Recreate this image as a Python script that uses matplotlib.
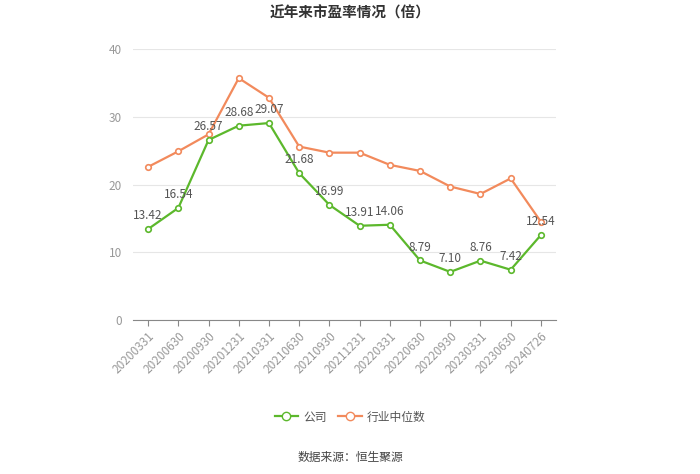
import matplotlib
matplotlib.use('Agg')
import matplotlib.pyplot as plt
from matplotlib.lines import Line2D

plt.rcParams['font.family'] = ['Noto Sans CJK SC', 'DejaVu Sans']
plt.rcParams['axes.unicode_minus'] = False

dates = ['20200331', '20200630', '20200930', '20201231', '20210331', '20210630',
         '20210930', '20211231', '20220331', '20220630', '20220930', '20230331',
         '20230630', '20240726']
company = [13.42, 16.54, 26.57, 28.68, 29.07, 21.68, 16.99, 13.91, 14.06, 8.79,
           7.10, 8.76, 7.42, 12.54]
industry = [22.6, 24.9, 27.4, 35.7, 32.8, 25.6, 24.7, 24.7, 22.9, 22.0, 19.7,
            18.6, 20.9, 14.5]
yticks = [0, 10, 20, 30, 40]

GREEN = '#5cb82c'
ORANGE = '#f28a5c'
GRAY = '#999999'

fig = plt.figure(figsize=(7.0, 4.74), dpi=100)
ax = fig.add_axes([133 / 700, 1 - 320 / 474, 423 / 700, 271 / 474])

x = list(range(len(dates)))
ax.plot(x, industry, color=ORANGE, lw=1.6, marker='o', ms=4,
        mfc='white', mec=ORANGE, mew=1.2, zorder=3)
ax.plot(x, company, color=GREEN, lw=1.6, marker='o', ms=4,
        mfc='white', mec=GREEN, mew=1.2, zorder=4)

for xi, v in zip(x, company):
    ax.annotate(f'{v:.2f}', (xi, v), xytext=(0, 5), textcoords='offset points',
                ha='center', va='bottom', fontsize=8.5, color='#555555', zorder=5)

ax.set_xlim(-0.5, len(dates) - 0.5)
ax.set_ylim(0, 40)
ax.set_yticks(yticks)
ax.set_yticklabels([str(t) for t in yticks], color=GRAY, fontsize=8.5)
ax.set_xticks(x)
ax.set_xticklabels(dates, rotation=45, ha='right', rotation_mode='anchor',
                   color=GRAY, fontsize=8.5)
ax.tick_params(axis='y', length=0, pad=8)
ax.tick_params(axis='x', length=4, color='#888888', pad=3)
ax.grid(axis='y', color='#e6e6e6', lw=0.8)
ax.set_axisbelow(True)
for s in ['top', 'right', 'left']:
    ax.spines[s].set_visible(False)
ax.spines['bottom'].set_color('#888888')
ax.spines['bottom'].set_zorder(2)

fig.text(0.5, 1 - 13 / 474, '近年来市盈率情况（倍）', ha='center', va='center',
         fontsize=10.5, fontweight='bold', color='#333333')

handles = [Line2D([], [], color=GREEN, lw=1.6, marker='o', ms=6, mfc='white', mec=GREEN),
           Line2D([], [], color=ORANGE, lw=1.6, marker='o', ms=6, mfc='white', mec=ORANGE)]
fig.legend(handles, ['公司', '行业中位数'], loc='center', bbox_to_anchor=(0.5, 1 - 417 / 474),
           ncol=2, frameon=False, fontsize=8.5, handlelength=2.0, columnspacing=1.0,
           handletextpad=0.4, labelcolor='#555555')

fig.text(0.5, 1 - 457 / 474, '数据来源：恒生聚源', ha='center', va='center',
         fontsize=8.5, color='#444444')

fig.savefig('out.png', dpi=100)
